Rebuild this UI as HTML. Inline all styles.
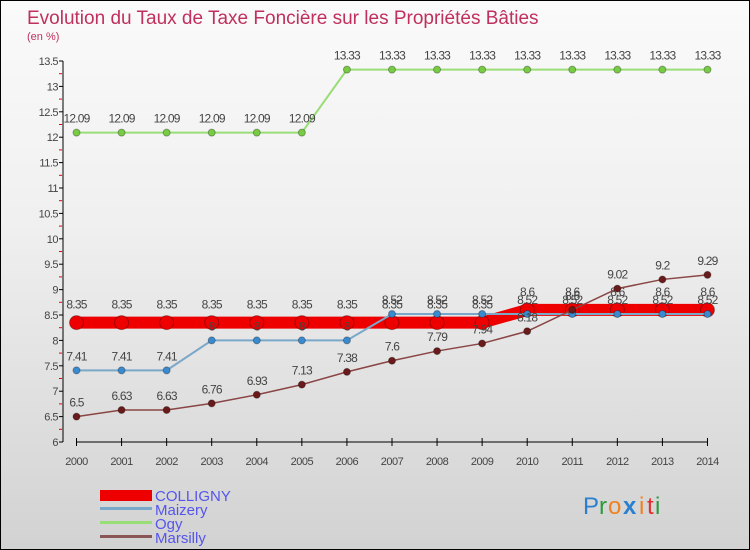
<!DOCTYPE html>
<html><head><meta charset="utf-8"><style>
body{margin:0}
#c{width:748px;height:548px;border:1px solid #000;background:linear-gradient(#fafafa,#f0f0f0 40%,#d2d2d2);position:relative;font-family:"Liberation Sans","DejaVu Sans",sans-serif;overflow:hidden}
</style></head><body>
<div id="c">
<svg id="s" width="748" height="548" style="position:absolute;left:0;top:0">
<text x="26" y="23" font-size="19" fill="#c0305e">Evolution du Taux de Taxe Foncière sur les Propriétés Bâties</text>
<text x="26" y="39" font-size="11" fill="#c0305e">(en %)</text>
<g id="g"></g>
<g>
<rect x="99" y="489" width="52" height="11" fill="#e00"/>
<text x="154" y="500" font-size="15" fill="#5555ee">COLLIGNY</text>
<rect x="99" y="506" width="52" height="3" fill="#7aa8c8"/>
<text x="154" y="514" font-size="15" fill="#5555ee">Maizery</text>
<rect x="99" y="520" width="52" height="3" fill="#99dd77"/>
<text x="154" y="528" font-size="15" fill="#5555ee">Ogy</text>
<rect x="99" y="534" width="52" height="3" fill="#8a5555"/>
<text x="154" y="542" font-size="15" fill="#5555ee">Marsilly</text>
</g>
<g font-size="24" font-family="Liberation Sans,sans-serif">
<text x="582" y="513" fill="#2a7fcf">P</text><text x="598" y="513" fill="#2a9a3a">r</text><text x="607" y="513" fill="#f08020">o</text><text x="622" y="513" fill="#2a7fcf" font-weight="bold">x</text><text x="638" y="513" fill="#f08020">i</text><text x="646" y="513" fill="#e03030">t</text><text x="654" y="513" fill="#2a9a3a">i</text>
</g>
</svg>
</div>
<script>
const years=[2000,2001,2002,2003,2004,2005,2006,2007,2008,2009,2010,2011,2012,2013,2014];
const colligny=[8.35,8.35,8.35,8.35,8.35,8.35,8.35,8.35,8.35,8.35,8.6,8.6,8.6,8.6,8.6];
const maizery=[7.41,7.41,7.41,8,8,8,8,8.52,8.52,8.52,8.52,8.52,8.52,8.52,8.52];
const ogy=[12.09,12.09,12.09,12.09,12.09,12.09,13.33,13.33,13.33,13.33,13.33,13.33,13.33,13.33,13.33];
const marsilly=[6.5,6.63,6.63,6.76,6.93,7.13,7.38,7.6,7.79,7.94,8.18,8.6,9.02,9.2,9.29];
const yTicks=[6,6.5,7,7.5,8,8.5,9,9.5,10,10.5,11,11.5,12,12.5,13,13.5];
const NS='http://www.w3.org/2000/svg';
const g=document.getElementById('g');
const x=i=>75.5+i*45.07;
const y=v=>441-(v-6)*50.8;
function mk(t,a,p){const e=document.createElementNS(NS,t);for(const k in a)e.setAttribute(k,a[k]);(p||g).appendChild(e);return e;}
const ya=mk('line',{x1:62,y1:60,x2:62,y2:441,stroke:'#000'});


const xa=mk('line',{x1:x(0),y1:441,x2:x(14),y2:441,stroke:'#000'});


yTicks.forEach(v=>{
 mk('line',{x1:58,y1:y(v),x2:62,y2:y(v),stroke:'#000'});
 if(v>6) mk('line',{x1:58,y1:y(v)+12.7,x2:61,y2:y(v)+12.7,stroke:'#e00'});
 const t=mk('text',{x:57,y:y(v)+4,'font-size':11,fill:'#444','text-anchor':'end','letter-spacing':'-0.5'});t.textContent=v;
 
 
});
years.forEach((yr,i)=>{
 mk('line',{x1:x(i),y1:437,x2:x(i),y2:445,stroke:'#000'});
 const t=mk('text',{x:x(i),y:464,'font-size':11,fill:'#444','text-anchor':'middle','letter-spacing':'-0.5'});t.textContent=yr;
 
 
});
function series(d,name,col,w,r,dot,dy){
 const p=mk('polyline',{points:d.map((v,i)=>x(i)+','+y(v)).join(' '),fill:'none',stroke:col,'stroke-width':w});
 
 
 d.forEach((v,i)=>{
  const c=mk('circle',{cx:x(i),cy:y(v),r:r,fill:dot,stroke:'rgba(0,0,0,0.3)'});
  
  
  const t=mk('text',{x:x(i),y:y(v)-dy,'font-size':12,fill:'#444','text-anchor':'middle','letter-spacing':'-0.8'});t.textContent=v;
  
  
 });
}
series(colligny,'colligny','#ee0000',12,7,'#ee0000',14);
series(ogy,'ogy','#99dd77',2,3.5,'#77cc44',10);
series(maizery,'maizery','#7aa8c8',2,3.5,'#3a8ad0',10);
series(marsilly,'marsilly','#8a4545',1.5,3.5,'#6a1a1a',10);
</script>
</body></html>
